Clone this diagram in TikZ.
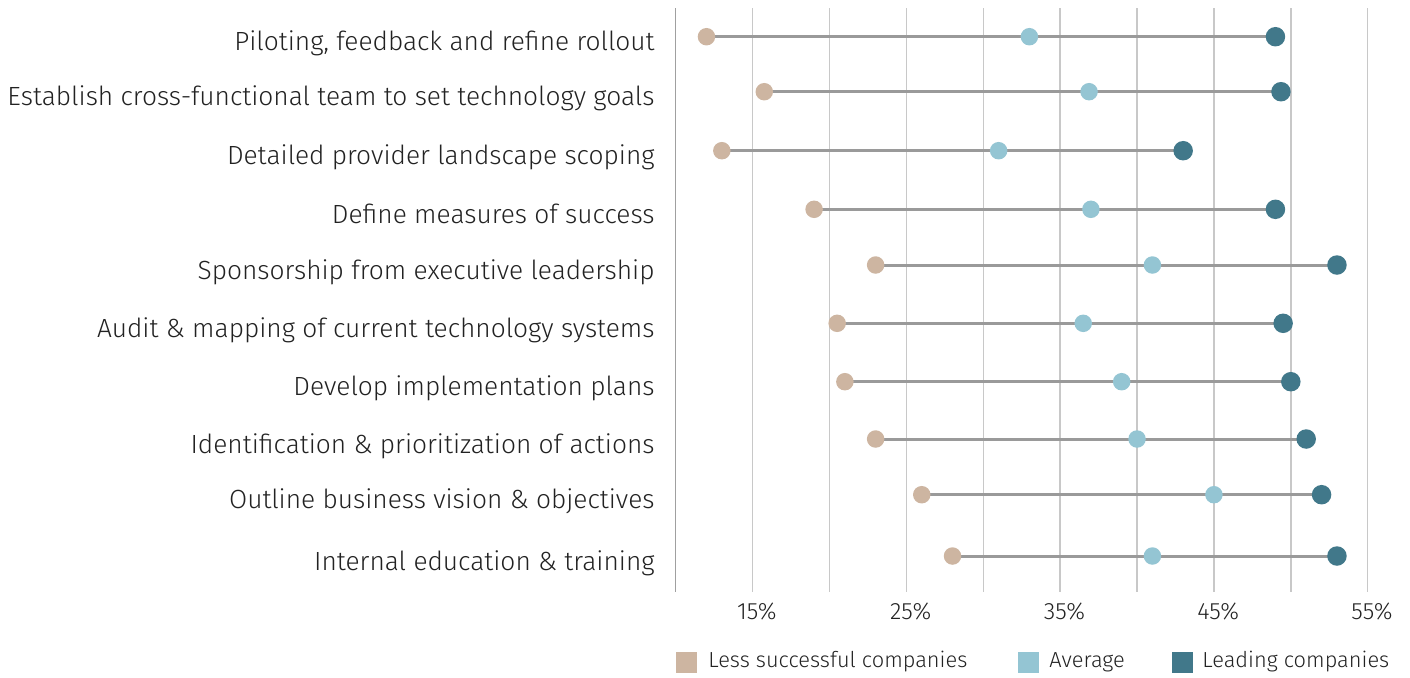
\documentclass[tikz,border=0pt]{standalone}
\usepackage{fontspec}
\setmainfont{Fira Sans Light}
\usetikzlibrary{positioning}
\definecolor{lesscol}{HTML}{CDB5A1}
\definecolor{avgcol}{HTML}{94C5D3}
\definecolor{leadcol}{HTML}{41788A}
\definecolor{gridcol}{HTML}{C8C8C8}
\definecolor{barcol}{HTML}{9A9A9A}
\definecolor{textcol}{HTML}{222222}

\begin{document}
\begin{tikzpicture}[x=0.5pt,y=-0.5pt,
    dot/.style={circle,inner sep=0pt,minimum size=8.75pt},
    lessdot/.style={dot,fill=lesscol},
    avgdot/.style={dot,fill=avgcol},
    leaddot/.style={dot,fill=leadcol,minimum size=9.75pt},
    bar/.style={barcol,line width=1.5pt},
    gridline/.style={gridcol,line width=0.75pt},
    rowlabel/.style={inner sep=0pt,anchor=base east,text=textcol,font=\fontsize{13.15}{16}\selectfont},
    ticklabel/.style={inner sep=0pt,anchor=base,text=textcol,font=\fontsize{11.8}{14}\selectfont},
    legsq/.style={inner sep=0pt,minimum size=10.5pt},
    legtext/.style={inner sep=0pt,anchor=base west,text=textcol,font=\fontsize{10.9}{13}\selectfont}]
    \useasboundingbox (0,0) rectangle (1410,677);

    % Draw the grid (10% at 675.7, 15.378 per percent)
    \foreach \p in {10,15,...,55} {
        \draw[gridline] ({675.7+15.378*(\p-10)},8) -- ({675.7+15.378*(\p-10)},592);
    }
    \draw[gridline,color=gridcol!80!black] (675.7,8) -- (675.7,592);

    % Tick labels
    \foreach \p in {15,25,35,45,55} {
        \node[ticklabel] (tick\p) at ({680+15.378*(\p-10)},619) {\p\%};
    }

    % Rows: y / less successful / average / leading / label
    \foreach \y/\lo/\av/\hi/\lab [count=\i] in {
        36.7/12/33/49/{Piloting, feedback and refine rollout},
        91.7/15.76/36.88/49.36/{Establish cross-functional team to set technology goals},
        150.7/13/31/43/{Detailed provider landscape scoping},
        209.3/19/37/49/{Define measures of success},
        265/23/41/53/{Sponsorship from executive leadership},
        323.3/20.5/36.5/49.5/{Audit \& mapping of current technology systems},
        381.7/21/39/50/{Develop implementation plans},
        439/23/40/51/{Identification \& prioritization of actions},
        494.7/26/45/52/{Outline business vision \& objectives},
        556/28/41/53/{Internal education \& training}} {
        \node[rowlabel] (label\i) at (655,\y+14) {\lab};
        \coordinate (lo\i) at ({675.7+15.378*(\lo-10)},\y);
        \coordinate (av\i) at ({675.7+15.378*(\av-10)},\y);
        \coordinate (hi\i) at ({675.7+15.378*(\hi-10)},\y);
        \draw[bar] (lo\i) -- (hi\i);
        \node[lessdot] (less\i) at (lo\i) {};
        \node[avgdot] (avg\i) at (av\i) {};
        \node[leaddot] (lead\i) at (hi\i) {};
    }

    % Legend
    \node[legsq,fill=lesscol] (sqless) at (686.5,662) {};
    \node[legtext] (txtless) at (708,667) {Less successful companies};
    \node[legsq,fill=avgcol] (sqavg) at (1028,662) {};
    \node[legtext] (txtavg) at (1049,667) {Average};
    \node[legsq,fill=leadcol] (sqlead) at (1182,662) {};
    \node[legtext] (txtlead) at (1202,667) {Leading companies};
\end{tikzpicture}
\end{document}
